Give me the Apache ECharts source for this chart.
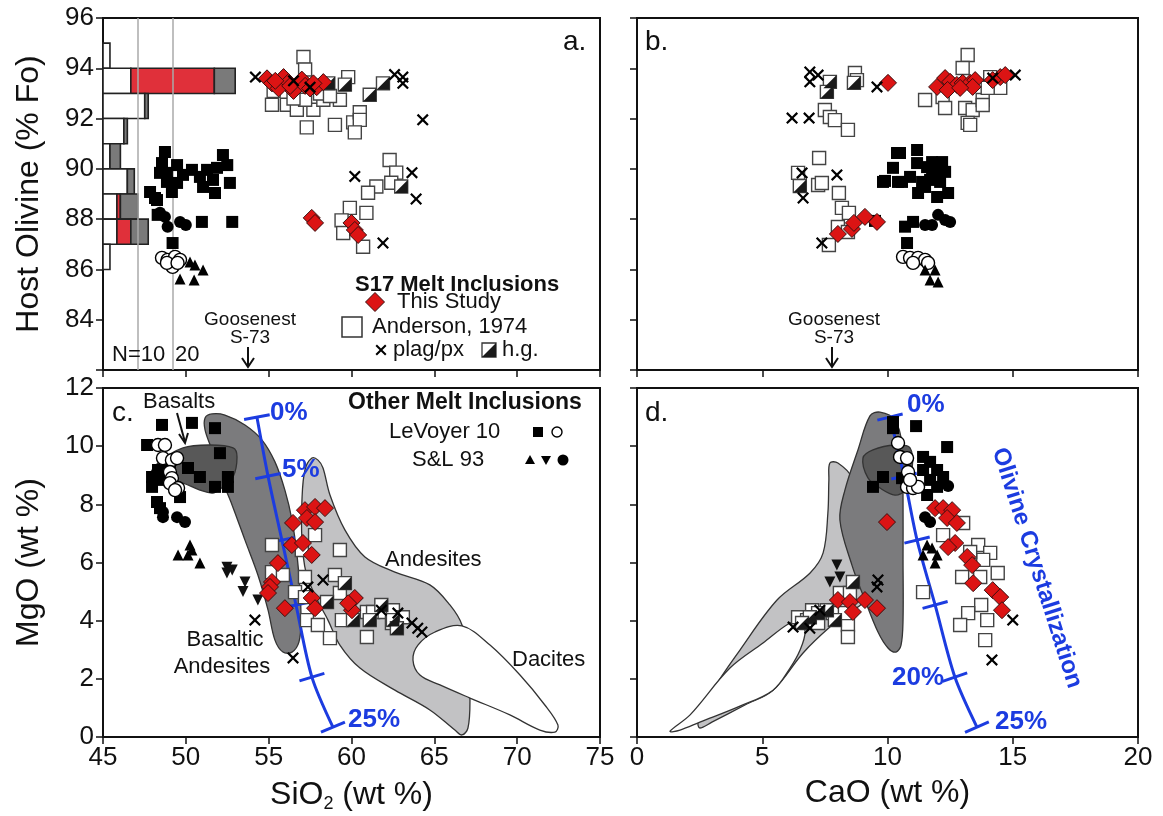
<!DOCTYPE html>
<html><head><meta charset="utf-8">
<script src="https://cdn.jsdelivr.net/npm/echarts@6/dist/echarts.min.js"></script>
<style>html,body{margin:0;padding:0;background:#fff}#c{width:1163px;height:816px}</style>
</head><body><div id="c"></div>
<script>
// ---------------- DATA ----------------
// Panel a: SiO2 vs host olivine Fo
const aThisStudy = [[54.9,93.6],[55.2,93.4],[55.6,93.2],[55.9,93.65],[56.2,93.45],[56.5,93.1],[56.3,93.3],[57.0,93.55],[57.2,93.3],[57.5,93.2],[57.9,93.25],[58.3,93.45],[55.4,93.5],[57.7,93.4],[57.6,88.05],[57.8,87.85],[60.0,87.85],[60.2,87.57],[60.4,87.37]];
const aAnderson = [[57.1,94.45],[57.2,93.95],[59.8,93.65],[55.2,92.55],[56.1,92.55],[56.7,92.35],[57.7,92.35],[58.3,92.75],[59.3,92.75],[57.3,91.65],[59.0,91.75],[60.1,91.85],[60.5,92.25],[60.5,91.95],[60.2,91.45],[55.3,93.1],[58.1,93.0],[58.7,92.9],[57.2,92.75],[56.5,92.8],[62.3,90.35],[62.7,89.85],[62.4,89.45],[61.5,89.3],[61.0,89.05],[59.9,88.45],[60.9,88.25],[59.4,87.95],[59.5,87.45],[60.7,86.9]];
const aHG = [[58.6,93.4],[59.6,93.35],[61.1,92.95],[61.9,93.4],[63.0,89.3]];
const aPlag = [[54.2,93.65],[62.6,93.75],[63.1,93.65],[63.1,93.4],[64.3,91.95],[60.2,89.7],[63.65,89.85],[63.9,88.8],[61.9,87.05],[56.5,93.5],[57.5,93.25]];
const aLVsq = [[48.74,90.67],[52.24,90.55],[52.5,90.15],[48.56,90.23],[48.86,89.84],[49.47,90.15],[50.37,89.96],[51.28,89.96],[51.88,90.04],[48.44,89.84],[49.83,89.76],[50.85,89.68],[51.64,89.56],[52.66,89.44],[49.47,89.44],[48.86,89.48],[51.04,89.28],[51.76,89.04],[49.16,89.08],[47.84,89.08],[48.14,88.84],[48.3,88.17],[50.97,87.89],[52.8,87.89],[49.2,87.05],[48.26,88.76]];
const aLVcirc = [[48.56,86.46],[48.9,86.38],[49.35,86.5],[49.65,86.38],[49.2,86.1],[48.86,86.26],[49.5,86.26]];
const aSLcirc = [[48.74,88.09],[48.9,87.7],[49.65,87.89],[50.0,87.77],[48.44,88.25]];
const aSLtri = [[50.25,86.3],[50.55,86.18],[51.04,85.98],[49.65,85.62],[50.5,85.58]];
// Histogram of host Fo: [Fo low, Fo high, Anderson count, this study count, h.g./other count]
const histBins = [[94,95,2,0,0],[93,94,8,24,6],[92,93,12,0,1],[91,92,6,0,1],[90,91,2,0,3],[89,90,7,0,2],[88,89,4,1,5],[87,88,4,4,5],[86,87,2,0,0]];
const histRefN = [10,20];

// Panel b: CaO vs Fo
const bThisStudy = [[10.02,93.42],[11.98,93.26],[12.3,93.61],[12.5,93.46],[12.77,93.34],[13.0,93.42],[13.3,93.42],[13.5,93.53],[13.4,93.26],[12.4,93.14],[14.5,93.65],[14.7,93.73],[14.2,93.53],[12.9,93.22],[8.02,87.41],[8.58,87.61],[8.66,87.85],[9.1,88.09],[9.58,87.89]];
const bAnderson = [[8.7,93.81],[8.78,93.53],[7.5,92.34],[7.7,92.06],[7.9,91.94],[8.42,91.55],[7.27,90.43],[6.43,89.84],[7.23,89.36],[7.38,89.44],[8.06,89.04],[8.18,88.45],[8.46,88.25],[8.02,87.69],[8.42,87.49],[7.66,86.97],[13.2,94.53],[13.0,94.01],[11.5,92.74],[12.2,92.86],[12.3,92.42],[13.1,92.42],[13.4,92.34],[13.8,92.74],[14.1,93.65],[14.5,93.22],[14.0,93.22],[13.2,91.83],[13.3,91.75],[13.8,92.54]];
const bHG = [[7.7,93.46],[7.58,93.06],[8.66,93.42],[6.5,89.32]];
const bPlag = [[6.9,93.85],[7.23,93.73],[6.9,93.46],[9.58,93.26],[6.19,92.02],[6.87,92.02],[6.59,89.84],[7.98,89.76],[6.63,88.84],[7.38,87.05],[15.1,93.73],[14.2,93.61]];
const bLVsq = [[9.5,87.93],[10.38,90.63],[10.22,90.04],[9.9,89.52],[10.42,89.48],[10.5,90.63],[11.18,90.75],[9.82,89.48],[10.58,89.48],[10.9,89.68],[11.18,90.23],[11.58,90.07],[11.78,90.27],[12.18,90.27],[12.3,89.88],[11.98,89.84],[11.7,89.56],[11.38,89.48],[12.1,89.48],[11.22,89.04],[11.98,88.88],[12.42,89.04],[11.5,89.28],[11.78,89.88],[11.02,87.89],[10.7,87.7],[10.78,87.05]];
const bLVcirc = [[10.62,86.5],[10.9,86.46],[11.22,86.46],[11.5,86.38],[11.02,86.26],[11.62,86.26]];
const bSLcirc = [[12.02,88.17],[12.3,87.97],[12.5,87.89],[11.5,87.77],[11.78,87.77]];
const bSLtri = [[11.9,85.98],[11.7,85.58],[12.02,85.5],[11.5,85.98]];

// Panel c: SiO2 vs MgO
const cThisStudy = [[57.19,7.8],[57.8,7.91],[58.4,7.87],[57.31,7.53],[57.8,7.39],[56.47,7.36],[56.4,6.6],[57.07,6.67],[57.6,6.26],[55.56,5.98],[55.2,5.33],[55.08,5.16],[54.96,4.95],[57.6,4.78],[57.8,4.43],[55.98,4.43],[60.2,4.78],[60.03,4.36],[59.8,4.6]];
const cAnderson = [[57.8,6.94],[55.2,6.6],[59.3,6.43],[57.0,6.43],[55.2,5.67],[55.86,5.57],[57.19,5.5],[59.0,5.57],[56.59,4.98],[57.19,4.81],[59.3,4.95],[57.31,4.02],[57.97,3.85],[58.7,3.4],[60.93,3.44],[59.42,4.02],[60.93,4.3],[61.3,4.3],[62.0,4.3],[62.5,4.36],[62.44,3.92],[63.1,4.12]];
const cHG = [[58.52,4.64],[59.6,5.29],[61.1,4.02],[61.8,4.54],[62.5,4.02],[62.74,3.74],[60.09,4.02]];
const cPlag = [[58.28,5.4],[57.37,5.16],[63.65,3.92],[64.0,3.74],[64.25,3.61],[61.8,4.36],[62.8,4.26],[56.47,2.72],[54.17,4.02]];
const cLVsq = [[48.56,10.73],[50.37,10.8],[51.76,10.62],[47.66,10.04],[52.06,9.76],[48.32,9.18],[50.13,9.25],[47.96,8.94],[47.96,8.6],[48.56,8.84],[50.85,8.94],[49.65,8.25],[48.26,8.08],[51.76,8.6],[52.54,8.94],[52.54,8.6],[48.44,7.87],[49.04,9.42]];
const cLVcirc = [[48.32,10.04],[48.74,10.04],[48.62,9.59],[49.16,9.52],[49.47,9.59],[49.04,9.11],[49.16,8.9],[49.04,8.73],[49.53,8.56],[49.35,8.49]];
const cSLcirc = [[48.62,7.74],[48.62,7.56],[49.47,7.56],[49.95,7.39]];
const cSLtri = [[50.25,6.6],[50.37,6.43],[49.53,6.26],[50.13,6.26],[50.85,5.98]];
const cSLdown = [[52.48,5.84],[52.8,5.74],[52.48,5.64],[53.57,5.33],[53.45,5.0],[54.35,4.71]];
const cFieldBasalt = [[47.84,8.94],[48.32,9.42],[49.83,9.94],[51.46,10.04],[52.85,9.94],[53.09,9.63],[52.85,8.94],[52.24,8.6],[51.64,8.39],[50.85,8.49],[49.83,8.73],[48.86,8.84]];
const cFieldBasAnd = [[51.16,10.97],[51.58,11.11],[52.36,11.07],[53.57,10.73],[54.6,10.21],[55.38,9.46],[55.98,8.49],[56.41,7.46],[56.71,6.26],[56.89,5.05],[56.95,4.02],[56.83,3.27],[56.41,2.92],[55.86,2.92],[55.38,3.33],[54.96,4.37],[54.35,5.57],[53.57,6.77],[52.79,7.98],[52.18,8.84],[51.58,9.87],[51.16,10.56]];
const cFieldAndesite = [[57.61,9.59],[57.98,9.52],[58.28,9.25],[58.7,8.32],[59.6,7.12],[60.81,6.19],[62.62,5.67],[64.73,5.23],[65.94,4.54],[66.67,3.85],[67.03,2.65],[67.15,1.27],[67.03,0.31],[66.67,0.07],[66.24,0.24],[64.73,0.93],[62.62,1.61],[60.51,2.37],[59.3,3.16],[58.58,4.02],[57.85,4.81],[57.25,5.67],[57.01,6.77],[57.01,8.15],[57.19,9.18]];
const cFieldDacite = [[63.71,2.65],[64.01,3.16],[65.04,3.61],[66.67,3.82],[68.36,3.16],[70.17,2.13],[71.67,1.1],[72.46,0.41],[72.28,0.17],[71.37,0.24],[69.56,0.76],[67.15,1.34],[65.34,1.79],[64.13,2.13]];
const cOlivine = [[54.29,11.0],[54.96,8.97],[55.8,6.77],[56.65,4.54],[57.61,2.06],[58.88,0.34]];

// Panel d: CaO vs MgO
const dThisStudy = [[9.98,7.39],[11.9,7.87],[12.22,7.87],[12.58,7.8],[12.38,7.53],[12.77,7.36],[12.7,6.67],[12.42,6.53],[13.18,6.19],[13.38,5.91],[13.42,5.29],[14.2,5.05],[14.5,4.81],[14.57,4.36],[8.02,4.71],[8.5,4.64],[8.62,4.3],[9.1,4.71],[9.58,4.43]];
const dAnderson = [[13.02,7.36],[12.22,6.94],[13.62,6.6],[14.1,6.33],[13.82,6.09],[13.3,6.36],[12.98,5.5],[13.7,5.5],[14.4,5.64],[11.42,4.98],[13.74,4.54],[13.22,4.26],[13.98,4.02],[12.9,3.85],[13.9,3.33],[6.43,4.12],[6.79,4.02],[7.23,3.92],[7.82,4.26],[8.1,4.95],[8.5,4.95],[8.42,3.85],[8.42,3.44],[8.3,4.26],[6.99,4.36]];
const dHG = [[8.62,5.33],[7.9,4.02],[7.58,4.36],[7.23,4.26],[6.9,4.12],[6.59,3.92]];
const dPlag = [[9.62,5.4],[9.58,5.16],[15.0,4.02],[14.17,2.65],[6.23,3.78],[6.9,3.74],[7.3,4.36]];
const dLVsq = [[10.22,10.83],[10.22,10.62],[11.14,10.69],[12.38,9.97],[11.42,9.63],[11.7,9.46],[11.98,9.18],[11.42,9.18],[12.22,8.94],[11.7,8.84],[11.98,8.6],[11.58,8.32],[9.82,8.94],[9.42,8.6],[10.58,8.9]];
const dLVcirc = [[10.42,10.11],[10.5,9.63],[10.78,9.59],[10.82,9.11],[10.78,8.6],[11.02,8.56],[11.22,8.6],[10.9,8.84]];
const dSLcirc = [[12.42,8.63],[11.5,7.56],[11.7,7.39]];
const dSLtri = [[11.58,6.6],[11.78,6.5],[11.42,6.26],[11.98,6.26],[11.9,5.98]];
const dSLdown = [[7.98,5.91],[8.1,5.5],[7.7,5.33]];
const dFieldBasAnd = [[9.3,11.04],[9.7,11.17],[10.3,10.9],[10.58,10.04],[10.62,8.15],[10.62,6.09],[10.62,4.02],[10.54,3.16],[10.34,2.92],[10.02,3.06],[9.62,3.61],[9.1,4.71],[8.58,5.91],[8.1,7.46],[8.3,8.49],[8.82,9.87]];
const dFieldBasalt = [[9.02,9.59],[9.42,9.87],[10.3,10.04],[10.9,9.94],[10.98,9.18],[10.7,8.49],[10.3,8.32],[9.7,8.56],[9.22,8.91]];
const dFieldAndesite = [[7.7,9.42],[8.02,9.42],[8.58,8.91],[8.9,7.46],[9.3,6.09],[9.1,4.71],[8.5,4.3],[7.7,3.78],[6.63,2.89],[5.43,1.61],[4.31,1.1],[2.99,0.51],[2.51,0.31],[2.44,0.51],[3.03,1.61],[4.11,2.99],[5.59,4.71],[6.91,5.64],[7.43,6.33],[7.62,7.7],[7.66,8.84]];
const dFieldDacite = [[1.32,0.2],[2.12,0.76],[3.71,2.37],[5.03,3.23],[6.11,3.92],[6.51,3.92],[6.71,3.61],[6.51,2.99],[6.11,2.37],[5.43,1.61],[4.11,1.06],[2.51,0.51],[1.72,0.24]];
const dOlivine = [[10.1,11.0],[10.66,8.97],[11.18,6.77],[11.9,4.54],[12.69,2.06],[13.57,0.34]];

const foTicks = [82,84,86,88,90,92,94,96];
const mgoTicks = [0,2,4,6,8,10,12];

// ---------------- STYLE ----------------
const FF = '"Liberation Sans", Arial, Helvetica, sans-serif';
const BLUE = '#1c3ce0';
const RED = '#dc1414';
const K = 0.21; // SiO2 units per histogram count
const SYM_X = 'path://M0,1.3 L1.3,0 L5,3.7 L8.7,0 L10,1.3 L6.3,5 L10,8.7 L8.7,10 L5,6.3 L1.3,10 L0,8.7 L3.7,5 Z';
const SYM_DOWN = 'path://M0,0 L10,0 L5,9 Z';
const SYM_HALF = 'path://M10,0 L10,10 L0,10 Z';

function sc(data, gi, symbol, size, fill, stroke, bw, z) {
  return {type:'scatter', xAxisIndex:gi, yAxisIndex:gi, data, symbol, symbolSize:size, z, silent:true,
    itemStyle:{color:fill, borderColor:stroke, borderWidth:bw, opacity:1}, animation:false};
}
function poly(data, gi, fill, z) {
  return {type:'custom', xAxisIndex:gi, yAxisIndex:gi, z, silent:true, animation:false, data:[data[0]],
    renderItem:(p, api)=>({type:'polygon', shape:{points:data.map(q=>api.coord(q)), smooth:0.35},
      style:{fill, stroke:'#333', lineWidth:1.3}})};
}
function olivine(data, gi) {
  const line = {type:'line', xAxisIndex:gi, yAxisIndex:gi, data, z:3, symbol:'none', smooth:0.3, silent:true, animation:false,
    lineStyle:{color:BLUE, width:3}};
  const ticks = {type:'custom', xAxisIndex:gi, yAxisIndex:gi, z:3, silent:true, animation:false, data,
    renderItem:(p, api)=>{
      const i = p.dataIndex, n = data.length;
      const c = api.coord(data[i]);
      const a = api.coord(data[Math.max(i-1,0)]), b = api.coord(data[Math.min(i+1,n-1)]);
      let dx=b[0]-a[0], dy=b[1]-a[1]; const L=Math.hypot(dx,dy); dx/=L; dy/=L;
      const h=13;
      return {type:'line', shape:{x1:c[0]-dy*h, y1:c[1]+dx*h, x2:c[0]+dy*h, y2:c[1]-dx*h}, style:{stroke:BLUE, lineWidth:3}};
    }};
  return [line, ticks];
}
function panelPoints(gi, s) {
  return [
    sc(s.anderson, gi, 'rect', 13, '#fff', '#444', 1.4, 5),
    sc(s.hg, gi, 'rect', 13, '#fff', '#444', 1.4, 5),
    sc(s.hg, gi, SYM_HALF, 13, '#1a1a1a', '#1a1a1a', 0, 5),
    sc(s.lvsq, gi, 'rect', 12, '#000', '#000', 0, 6),
    sc(s.lvcirc, gi, 'circle', 13, '#fff', '#000', 1.4, 6),
    sc(s.slcirc, gi, 'circle', 12, '#000', '#000', 0, 6),
    sc(s.sltri, gi, 'triangle', 11, '#000', '#000', 0, 6),
    sc(s.sldown || [], gi, SYM_DOWN, 11, '#111', '#111', 0, 6),
    sc(s.red, gi, 'diamond', 17, RED, '#3a1010', 1, 7),
    sc(s.plag, gi, SYM_X, 12, '#000', '#000', 0, 8)
  ];
}

const histSeries = {type:'custom', xAxisIndex:0, yAxisIndex:0, z:2, silent:true, animation:false, data:histBins,
  renderItem:(p, api)=>{
    const lo=api.value(0), hi=api.value(1), w=api.value(2), r=api.value(3), g=api.value(4);
    const segs=[[0,w,'#ffffff'],[w,w+r,'#e0303a'],[w+r,w+r+g,'#7a7a7a']];
    const children=[];
    segs.forEach(s=>{ if(s[1]>s[0]){
      const p1=api.coord([45+s[0]*K, hi]), p2=api.coord([45+s[1]*K, lo]);
      children.push({type:'rect', shape:{x:p1[0], y:p1[1], width:p2[0]-p1[0], height:p2[1]-p1[1]},
        style:{fill:s[2], stroke:'#222', lineWidth:1.6}});
    }});
    return {type:'group', children};
  }};
const refLines = {type:'line', xAxisIndex:0, yAxisIndex:0, data:[], z:1, silent:true, animation:false,
  markLine:{silent:true, symbol:'none', label:{show:false}, lineStyle:{color:'#aaa', width:1.5, type:'solid'},
    data: histRefN.map(n=>({xAxis:45+n*K}))}};

const series = [
  refLines, histSeries,
  ...panelPoints(0,{anderson:aAnderson,hg:aHG,lvsq:aLVsq,lvcirc:aLVcirc,slcirc:aSLcirc,sltri:aSLtri,red:aThisStudy,plag:aPlag}),
  ...panelPoints(1,{anderson:bAnderson,hg:bHG,lvsq:bLVsq,lvcirc:bLVcirc,slcirc:bSLcirc,sltri:bSLtri,red:bThisStudy,plag:bPlag}),
  poly(cFieldAndesite,2,'#c2c2c4',1), poly(cFieldDacite,2,'#ffffff',1), poly(cFieldBasAnd,2,'#7b7b7d',1), poly(cFieldBasalt,2,'#585858',1),
  ...olivine(cOlivine,2),
  ...panelPoints(2,{anderson:cAnderson,hg:cHG,lvsq:cLVsq,lvcirc:cLVcirc,slcirc:cSLcirc,sltri:cSLtri,sldown:cSLdown,red:cThisStudy,plag:cPlag}),
  poly(dFieldAndesite,3,'#c2c2c4',1), poly(dFieldDacite,3,'#ffffff',1), poly(dFieldBasAnd,3,'#7b7b7d',1), poly(dFieldBasalt,3,'#585858',1),
  ...olivine(dOlivine,3),
  ...panelPoints(3,{anderson:dAnderson,hg:dHG,lvsq:dLVsq,lvcirc:dLVcirc,slcirc:dSLcirc,sltri:dSLtri,sldown:dSLdown,red:dThisStudy,plag:dPlag})
];

const gridBase = {show:true, borderColor:'#111', borderWidth:2, backgroundColor:'transparent', containLabel:false};
const axLine = {show:true, lineStyle:{color:'#111', width:2}};
const axTick = {show:true, inside:false, length:7, lineStyle:{color:'#111', width:1.5}};
const lab = {color:'#111', fontFamily:FF, fontSize:26};
function xAx(gi, min, max, iv, showLab, name) {
  return {type:'value', gridIndex:gi, min, max, interval:iv, axisLine:axLine, axisTick:axTick, splitLine:{show:false},
    axisLabel:Object.assign({show:showLab, margin:8}, lab),
    name: name || '', nameLocation:'middle', nameGap:40,
    nameTextStyle:{color:'#111', fontFamily:FF, fontSize:32,
      rich:{a:{fontFamily:FF, fontSize:32, color:'#111'}, s:{fontFamily:FF, fontSize:18, color:'#111', padding:[18,0,0,0]}}}};
}
function yAx(gi, min, max, iv, showLab, name, hideMin) {
  return {type:'value', gridIndex:gi, min, max, interval:iv, axisLine:axLine, axisTick:axTick, splitLine:{show:false},
    axisLabel:Object.assign({show:showLab, margin:9, formatter:v=> (hideMin && v===min) ? '' : String(v)}, lab),
    name: name || '', nameLocation:'middle', nameGap:58, nameRotate:90,
    nameTextStyle:{color:'#111', fontFamily:FF, fontSize:32}};
}

function T(text, x, y, size, opts) {
  opts = opts || {};
  return {type:'text', x, y, rotation:opts.rot||0, z:50, silent:true,
    style:{text, fill:opts.color||'#111', font:(opts.bold?'bold ':'')+size+'px '+FF,
      align:opts.align||'left', verticalAlign:'middle'}};
}
function L(pts, opts) {
  opts = opts || {};
  return {type:'polyline', z:50, silent:true, shape:{points:pts}, style:{stroke:opts.color||'#111', lineWidth:opts.w||2, fill:null}};
}
// unit-square (0..10) shapes for legend symbols
const U_RECT=[[0,0],[10,0],[10,10],[0,10]], U_DIAM=[[5,0],[10,5],[5,10],[0,5]], U_TRI=[[5,0],[10,9],[0,9]], U_DOWN=[[0,0],[10,0],[5,9]], U_HALF=[[10,0],[10,10],[0,10]];
const U_X=[[0,1.3],[1.3,0],[5,3.7],[8.7,0],[10,1.3],[6.3,5],[10,8.7],[8.7,10],[5,6.3],[1.3,10],[0,8.7],[3.7,5]];
function S(u, x, y, w, h, fill, stroke, lw) {
  const pts = u.map(p=>[x-w/2+p[0]*w/10, y-h/2+p[1]*h/10]);
  return {type:'polygon', z:50, silent:true, shape:{points:pts}, style:{fill, stroke:stroke||null, lineWidth:lw||0}};
}
function circ(x,y,r,fill,stroke,lw){return {type:'circle', z:50, silent:true, shape:{cx:x,cy:y,r}, style:{fill,stroke:stroke||null,lineWidth:lw||0}};}

const graphics = [
  T('a.',563,42,28), T('b.',645,42,28), T('c.',112,413,28), T('d.',645,413,28),
  T('Goosenest',250,320,19,{align:'center'}), T('S-73',250,338,19,{align:'center'}),
  L([[248,347],[248,367]]), L([[242,358],[248,367],[254,358]]),
  T('Goosenest',834,320,19,{align:'center'}), T('S-73',834,338,19,{align:'center'}),
  L([[832,347],[832,367]]), L([[826,358],[832,367],[838,358]]),
  T('N=10',112,355,22), T('20',175,355,22),
  T('S17 Melt Inclusions',355,285,22,{bold:true}),
  S(U_DIAM,375,302,19,19,RED,'#3a1010',1), T('This Study',397,302,22),
  S(U_RECT,352,327,20,20,'#fff','#333',1.5), T('Anderson, 1974',372,327,22),
  S(U_X,381,350,11,11,'#000',null,0), T('plag/px',393,350,22),
  S(U_RECT,489,350,14,14,'#fff','#333',1.3), S(U_HALF,489,350,14,14,'#1a1a1a',null,0), T('h.g.',502,350,22),
  T('Other Melt Inclusions',348,403,23,{bold:true}),
  T('LeVoyer 10',389,432,22), S(U_RECT,538,432,10,10,'#000',null,0), circ(557,432,5,'#fff','#000',1.4),
  T('S&L 93',412,460,22), S(U_TRI,530,460,10,10,'#000',null,0), S(U_DOWN,546,461,10,10,'#000',null,0), circ(563,460,5.5,'#000',null,0),
  T('Basalts',143,402,22), L([[177,413],[185,442]]), L([[179,434],[185,443],[188,433]]),
  T('Basaltic',225,640,22,{align:'center'}), T('Andesites',222,667,22,{align:'center'}),
  T('Andesites',385,560,22), T('Dacites',512,660,22),
  T('0%',270,413,26,{bold:true,color:BLUE}), T('5%',282,470,26,{bold:true,color:BLUE}), T('25%',348,720,26,{bold:true,color:BLUE}),
  T('0%',907,405,26,{bold:true,color:BLUE}), T('20%',892,678,26,{bold:true,color:BLUE}), T('25%',995,722,26,{bold:true,color:BLUE}),
  T('Olivine Crystallization',1037,568,24,{bold:true,color:BLUE,align:'center',rot:-1.262})
];

const option = {
  backgroundColor:'#fff', animation:false,
  grid:[
    Object.assign({left:103, top:18, width:497, height:352}, gridBase),
    Object.assign({left:637, top:18, width:501, height:352}, gridBase),
    Object.assign({left:103, top:388, width:497, height:349}, gridBase),
    Object.assign({left:637, top:388, width:501, height:349}, gridBase)
  ],
  xAxis:[
    xAx(0,45,75,5,false), xAx(1,0,20,5,false),
    xAx(2,45,75,5,true,'{a|SiO}{s|2}{a| (wt %)}'), xAx(3,0,20,5,true,'CaO (wt %)')
  ],
  yAxis:[
    yAx(0,foTicks[0],foTicks[foTicks.length-1],2,true,'Host Olivine (% Fo)',true), yAx(1,82,96,2,false),
    yAx(2,mgoTicks[0],mgoTicks[mgoTicks.length-1],2,true,'MgO (wt %)'), yAx(3,0,12,2,false)
  ],
  series, graphic:graphics
};
const chart = echarts.init(document.getElementById('c'), null, {renderer:'canvas'});
chart.setOption(option);
</script></body></html>
